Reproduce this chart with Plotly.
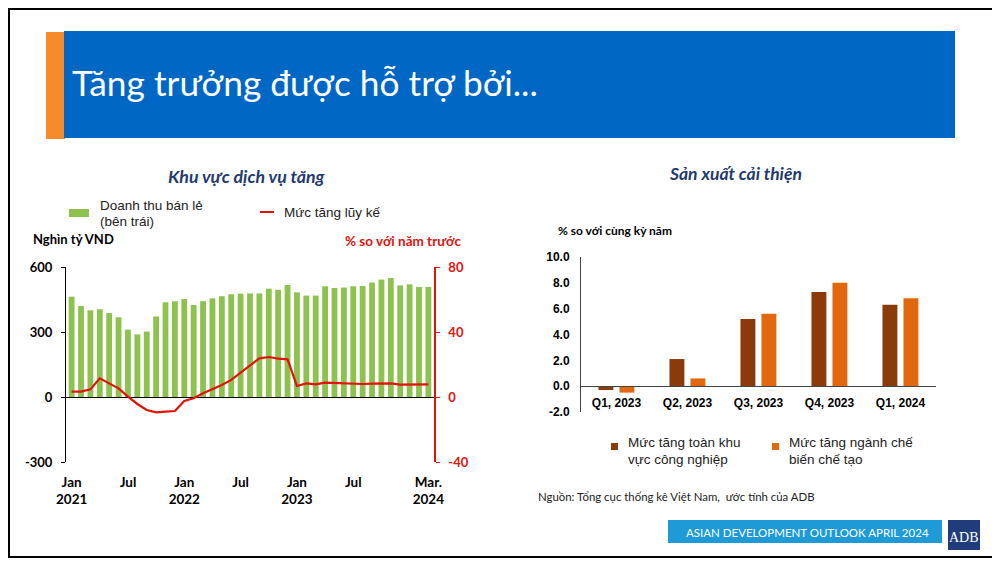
import plotly.graph_objects as go

# ---------------- DATA ----------------
months = ["2021-01","2021-02","2021-03","2021-04","2021-05","2021-06","2021-07","2021-08","2021-09","2021-10","2021-11","2021-12",
          "2022-01","2022-02","2022-03","2022-04","2022-05","2022-06","2022-07","2022-08","2022-09","2022-10","2022-11","2022-12",
          "2023-01","2023-02","2023-03","2023-04","2023-05","2023-06","2023-07","2023-08","2023-09","2023-10","2023-11","2023-12",
          "2024-01","2024-02","2024-03"]
retail_sales = [463, 420, 400, 405, 388, 368, 311, 289, 302, 372, 437, 442,
                452, 425, 442, 455, 465, 474, 477, 478, 478, 500, 495, 517,
                483, 468, 468, 511, 503, 505, 511, 512, 528, 542, 549, 515,
                520, 508, 508]
cumulative_growth = [3.3, 3.3, 4.7, 11.5, 8.4, 5.3, 0.2, -4.3, -8.0, -9.4, -9.0, -8.6,
                     -2.5, -0.8, 2.3, 4.7, 7.4, 10.5, 15.0, 19.7, 23.8, 24.6, 23.6, 23.2,
                     6.8, 8.4, 7.8, 8.8, 8.6, 8.2, 8.0, 8.0, 8.2, 8.2, 8.4, 7.6,
                     7.6, 7.8, 7.8]
month_tickvals = ["2021-01", "2021-07", "2022-01", "2022-07", "2023-01", "2023-07", "2024-03"]
month_ticktext = ["Jan<br>2021", "Jul", "Jan<br>2022", "Jul", "Jan<br>2023", "Jul", "Mar.<br>2024"]
left_ticks = [-300, 0, 300, 600]
left_ticktext = ["-300", "0", "300", "600"]
right_ticks = [-40, 0, 40, 80]
right_ticktext = ["-40", "0", "40", "80"]

quarters = ["Q1, 2023", "Q2, 2023", "Q3, 2023", "Q4, 2023", "Q1, 2024"]
industry_growth = [-0.3, 2.1, 5.2, 7.3, 6.3]
manufacturing_growth = [-0.5, 0.6, 5.6, 8.0, 6.8]
pct_ticks = [-2, 0, 2, 4, 6, 8, 10]
pct_ticktext = ["-2.0", "0.0", "2.0", "4.0", "6.0", "8.0", "10.0"]

# ---------------- HELPERS (window pixel -> paper) ----------------
# the page body keeps an 8px margin, so the figure is sized to fill the rest of the window
OFF = 8
W, H = 1000 - OFF, 562 - OFF
def X(px):
    return (px - OFF) / W
def Y(py):
    return 1 - (py - OFF) / H

GREEN = "#8DC24F"
RED = "#E3120B"
BROWN = "#8B3A0B"
ORANGE = "#E2680F"
NAVY = "#1F3A6E"
CAL = "Lato, 'Open Sans', sans-serif"
ARIAL = "'Liberation Sans', Arial, sans-serif"

fig = go.Figure()

# Left chart
fig.add_trace(go.Bar(
    x=months, y=retail_sales, name="Doanh thu bán lẻ (bên trái)",
    marker=dict(color=GREEN, line=dict(width=0)), width=0.62,
    xaxis="x", yaxis="y"))
fig.add_trace(go.Scatter(
    x=months, y=cumulative_growth, name="Mức tăng lũy kế", mode="lines",
    line=dict(color=RED, width=2.2), xaxis="x", yaxis="y2"))

# Right chart
fig.add_trace(go.Bar(
    x=quarters, y=industry_growth, name="Mức tăng toàn khu vực công nghiệp",
    marker=dict(color=BROWN, line=dict(width=0)), width=0.21, offset=-0.254,
    xaxis="x3", yaxis="y3"))
fig.add_trace(go.Bar(
    x=quarters, y=manufacturing_growth, name="Mức tăng ngành chế biến chế tạo",
    marker=dict(color=ORANGE, line=dict(width=0)), width=0.21, offset=0.042,
    xaxis="x3", yaxis="y3"))

left_dom_y = [Y(462), Y(267)]
right_dom_y = [Y(412), Y(257)]
r_lo, r_hi = -2, 10
right_zero_pos = right_dom_y[0] + (0 - r_lo) / (r_hi - r_lo) * (right_dom_y[1] - right_dom_y[0])

fig.update_layout(
    width=W, height=H,
    margin=dict(l=0, r=0, t=0, b=0, pad=0, autoexpand=False),
    paper_bgcolor="white", plot_bgcolor="rgba(0,0,0,0)",
    showlegend=False,
    barmode="overlay",
    xaxis=dict(domain=[X(66), X(434)], type="category", categoryorder="array", categoryarray=months,
               range=[-0.6, 38.6], tickmode="array", tickvals=month_tickvals, ticktext=month_ticktext,
               showline=False, showgrid=False, zeroline=False, ticks="", automargin=False,
               ticklabelstandoff=10,
               tickfont=dict(family=CAL, size=13.5, color="black", weight="bold"),
               anchor="y", fixedrange=True),
    yaxis=dict(domain=left_dom_y, range=[-300, 600], tickmode="array", tickvals=left_ticks, ticktext=left_ticktext,
               showline=True, linecolor="black", linewidth=1, ticks="outside", ticklen=4,
               tickcolor="black", showgrid=False, zeroline=True, zerolinecolor="black", zerolinewidth=1,
               automargin=False, ticklabelstandoff=6,
               tickfont=dict(family=CAL, size=13, color="black", weight="bold"), anchor="x"),
    yaxis2=dict(domain=left_dom_y, range=[-40, 80], tickmode="array", tickvals=right_ticks, ticktext=right_ticktext,
                overlaying="y", side="right", anchor="x",
                showline=True, linecolor=RED, linewidth=1.5, ticks="outside", ticklen=4, tickcolor=RED,
                showgrid=False, zeroline=False, automargin=False, ticklabelstandoff=6,
                tickfont=dict(family=CAL, size=13, color=RED, weight="bold")),
    xaxis3=dict(domain=[X(581), X(936)], type="category", anchor="free", position=right_zero_pos,
                showline=True, linecolor="#444", linewidth=1, ticks="", showgrid=False, zeroline=False,
                automargin=False, ticklabelstandoff=5,
                tickfont=dict(family=ARIAL, size=12, color="black", weight="bold")),
    yaxis3=dict(domain=right_dom_y, range=[r_lo, r_hi], tickmode="array", tickvals=pct_ticks, ticktext=pct_ticktext,
                anchor="x3", showline=True, linecolor="#444", linewidth=1, ticks="", showgrid=False,
                zeroline=False, automargin=False, ticklabelstandoff=8,
                tickfont=dict(family=ARIAL, size=12, color="black", weight="bold")),
)

def rect(x0, x1, y0, y1, color, line=None):
    return dict(type="rect", xref="paper", yref="paper", x0=X(x0), x1=X(x1), y0=Y(y1), y1=Y(y0),
                line=line or dict(width=0), fillcolor=color, layer="below")

shapes = [
    # slide frame
    dict(type="rect", xref="paper", yref="paper", x0=X(9), x1=X(997), y0=Y(557), y1=Y(9),
         line=dict(color="black", width=2), fillcolor="rgba(0,0,0,0)", layer="below"),
    # banner
    rect(46, 65, 32, 139, "#F58A2A"),
    rect(64, 955, 31, 138, "#0068C4"),
    # footer
    rect(668, 942, 520, 543, "#1E9AD6"),
    rect(948, 980, 520, 550, "#203C7A"),
    # legend keys
    rect(69, 89, 209, 217, GREEN),
    dict(type="line", xref="paper", yref="paper", x0=X(260), x1=X(274), y0=Y(212), y1=Y(212),
         line=dict(color=RED, width=2)),
    rect(611, 618, 443, 450, BROWN),
    rect(772, 779, 443, 450, ORANGE),
]
fig.update_layout(shapes=shapes)

def ann(text, x, y, size, color="black", family=CAL, xanchor="left", yanchor="middle"):
    return dict(text=text, x=X(x), y=Y(y), xref="paper", yref="paper", showarrow=False,
                xanchor=xanchor, yanchor=yanchor, font=dict(family=family, size=size, color=color))

annotations = [
    ann("Tăng trưởng được hỗ trợ bởi...", 70, 82, 35.3, "white"),
    ann("<b><i>Khu vực dịch vụ tăng</i></b>", 247, 176, 17.7, NAVY, xanchor="center"),
    ann("<b><i>Sản xuất cải thiện</i></b>", 735, 173, 17.5, NAVY, xanchor="center"),
    ann("<b>Nghìn tỷ VND</b>", 31, 239, 13, "black"),
    ann("<b>% so với năm trước</b>", 463, 241, 13.5, RED, xanchor="right"),
    ann("<b>% so với cùng kỳ năm</b>", 556, 231, 12, "black"),
    # legends
    ann("Doanh thu bán lẻ", 98, 206, 13.5, "#222", family=ARIAL),
    ann("(bên trái)", 98, 222, 13.5, "#222", family=ARIAL),
    ann("Mức tăng lũy kế", 282, 213, 13.5, "#222", family=ARIAL),
    ann("Mức tăng toàn khu", 626, 443, 13.5, "#222", family=ARIAL),
    ann("vực công nghiệp", 626, 459, 13.5, "#222", family=ARIAL),
    ann("Mức tăng ngành chế", 787, 443, 13.5, "#222", family=ARIAL),
    ann("biến chế tạo", 787, 459, 13.5, "#222", family=ARIAL),
    ann("Nguồn: Tổng cục thống kê Việt Nam,  ước tính của ADB", 536, 496, 11.4, "#222"),
    ann("ASIAN DEVELOPMENT OUTLOOK APRIL 2024", 807, 532, 11.5, "white", xanchor="center"),
    ann("ADB", 964, 537, 14, "white", family="'Liberation Serif', serif", xanchor="center"),
]
fig.update_layout(annotations=annotations)

fig.write_html("out.html")
